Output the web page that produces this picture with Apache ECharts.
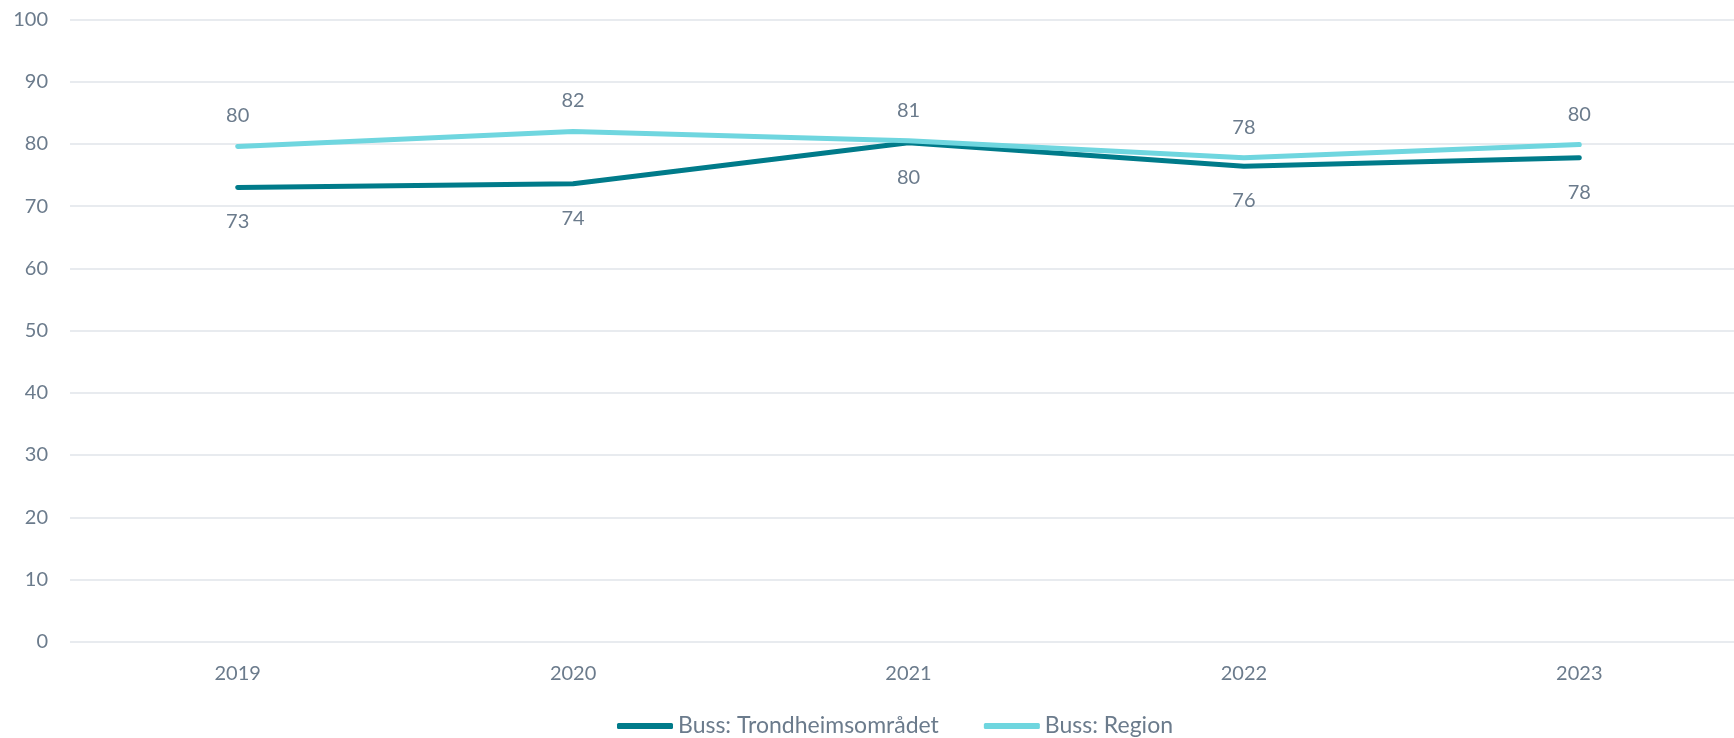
<!DOCTYPE html>
<html>
<head>
<meta charset="utf-8">
<style>
  html, body { margin: 0; padding: 0; background: #fff; overflow: hidden; }
  #chart { width: 1747px; height: 738px; }
</style>
<script src="https://cdn.jsdelivr.net/npm/echarts@6/dist/echarts.min.js"></script>
</head>
<body>
<div id="chart"></div>
<script>
const years = ['2019', '2020', '2021', '2022', '2023'];
const trondheim = [73.0, 73.6, 80.2, 76.4, 77.8];
const region = [79.6, 82.0, 80.5, 77.8, 79.9];

const textColor = '#6B7B8C';
const gridColor = '#E1E5EA';
const darkTeal = '#007B8A';
const lightTeal = '#6FD6DF';

// the plot area runs a little past the right edge of the window, as in the original
const chart = echarts.init(document.getElementById('chart'), null, { renderer: 'canvas' });
window.addEventListener('resize', function () {
  chart.resize();
});

chart.setOption({
  animation: false,
  textStyle: { fontFamily: 'Lato' },
  grid: { left: 70, right: 0, top: 19.5, bottom: 96.3 },
  legend: {
    left: 617,
    top: 714,
    padding: 0,
    itemWidth: 56,
    itemHeight: 6,
    itemGap: 45,
    textStyle: { color: textColor, fontSize: 23, fontFamily: 'Lato', lineHeight: 24 },
    data: [
      { name: 'Buss: Trondheimsområdet', icon: 'roundRect', itemStyle: { color: darkTeal, opacity: 1 } },
      { name: 'Buss: Region', icon: 'roundRect', itemStyle: { color: lightTeal, opacity: 1 } }
    ]
  },
  xAxis: {
    type: 'category',
    data: years,
    boundaryGap: true,
    axisLine: { show: false },
    axisTick: { show: false },
    axisLabel: { color: textColor, fontSize: 20, margin: 22 }
  },
  yAxis: {
    type: 'value',
    min: 0,
    max: 100,
    interval: 10,
    axisLine: { show: false },
    axisTick: { show: false },
    axisLabel: { color: textColor, fontSize: 20, margin: 22 },
    splitLine: { lineStyle: { color: gridColor, width: 1.5 } }
  },
  series: [
    {
      name: 'Buss: Trondheimsområdet',
      type: 'line',
      data: trondheim,
      symbol: 'circle',
      symbolSize: 1,
      showSymbol: true,
      itemStyle: { color: 'transparent' },
      lineStyle: { color: darkTeal, width: 5, cap: 'round', join: 'round' },
      label: {
        show: true,
        position: 'bottom',
        distance: 24,
        color: textColor,
        fontSize: 20,
        formatter: p => Math.round(p.value)
      },
      z: 2
    },
    {
      name: 'Buss: Region',
      type: 'line',
      data: region,
      symbol: 'circle',
      symbolSize: 1,
      showSymbol: true,
      itemStyle: { color: 'transparent' },
      lineStyle: { color: lightTeal, width: 5, cap: 'round', join: 'round' },
      label: {
        show: true,
        position: 'top',
        distance: 20,
        color: textColor,
        fontSize: 20,
        formatter: p => Math.round(p.value)
      },
      z: 3
    }
  ]
});
</script>
</body>
</html>
